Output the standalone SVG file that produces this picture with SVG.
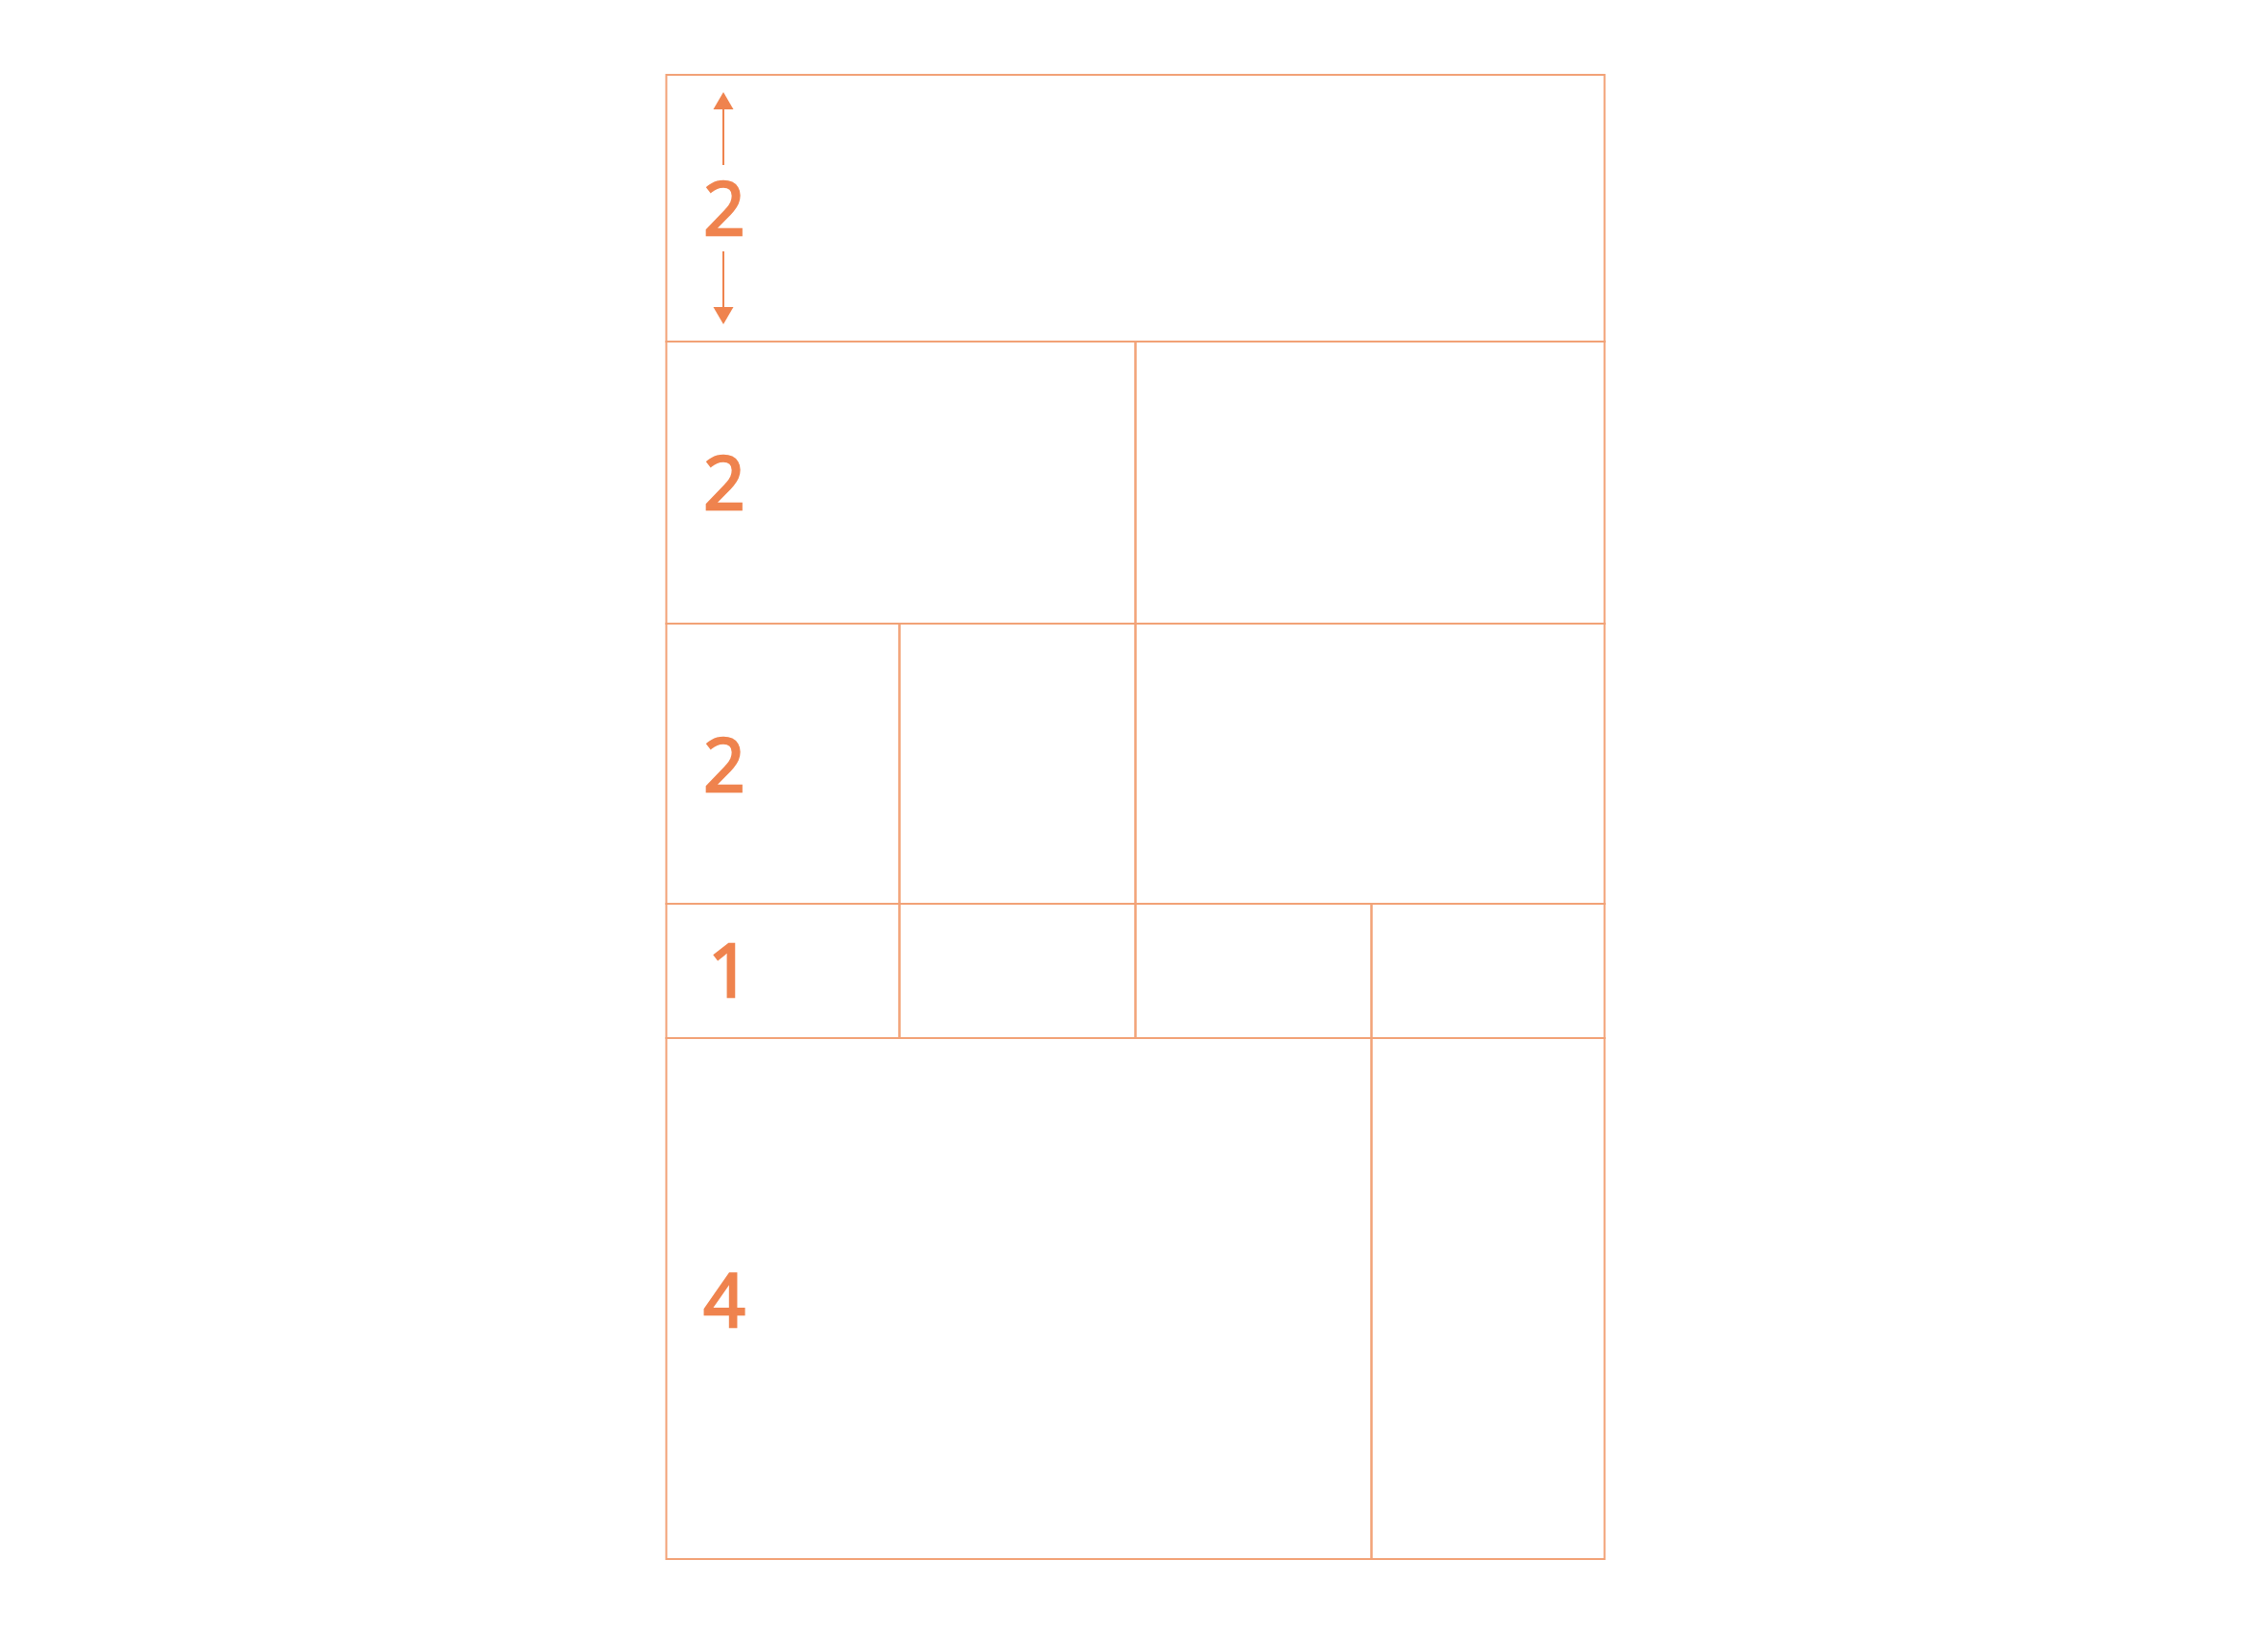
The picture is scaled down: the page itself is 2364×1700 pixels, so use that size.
<svg xmlns="http://www.w3.org/2000/svg" width="2364" height="1700" viewBox="0 0 2364 1700">
  <style>
    .cell { fill: none; stroke: #F2A277; stroke-width: 2; }
    .num { fill: #EF834E; stroke: #EF834E; stroke-width: 2.6; font-family: "Open Sans", "Noto Sans", "Liberation Sans", sans-serif; font-size: 76px; font-weight: 400; text-anchor: middle; }
    .arr { stroke: #EF834E; stroke-width: 2; fill: none; }
    .head { fill: #EF834E; }
  </style>
  <rect width="2364" height="1700" fill="#FFFFFF"/>
  <g id="row1">
    <rect class="cell" x="694.5" y="78" width="978" height="278"/>
  </g>
  <g id="row2">
    <rect class="cell" x="694.5" y="356" width="489" height="294"/>
    <rect class="cell" x="1183.5" y="356" width="489" height="294"/>
  </g>
  <g id="row3">
    <rect class="cell" x="694.5" y="650" width="243" height="292"/>
    <rect class="cell" x="937.5" y="650" width="246" height="292"/>
    <rect class="cell" x="1183.5" y="650" width="489" height="292"/>
  </g>
  <g id="row4">
    <rect class="cell" x="694.5" y="942" width="243" height="140"/>
    <rect class="cell" x="937.5" y="942" width="246" height="140"/>
    <rect class="cell" x="1183.5" y="942" width="246" height="140"/>
    <rect class="cell" x="1429.5" y="942" width="243" height="140"/>
  </g>
  <g id="row5">
    <rect class="cell" x="694.5" y="1082" width="735" height="543"/>
    <rect class="cell" x="1429.5" y="1082" width="243" height="543"/>
  </g>
  <g id="labels">
    <text class="num" x="755" y="244.5">2</text>
    <text class="num" x="755" y="530.5">2</text>
    <text class="num" x="755" y="824.5">2</text>
    <text class="num" x="760" y="1038.5">1</text>
    <text class="num" x="755" y="1383">4</text>
  </g>
  <g id="connectors">
    <line class="arr" x1="754" y1="172" x2="754" y2="112"/>
    <polygon class="head" points="743.5,114 764.5,114 754,96"/>
    <line class="arr" x1="754" y1="262" x2="754" y2="322"/>
    <polygon class="head" points="743.5,320 764.5,320 754,338"/>
  </g>
</svg>
